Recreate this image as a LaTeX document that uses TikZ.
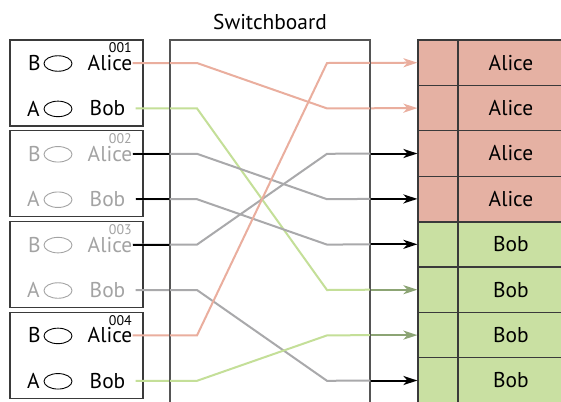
\documentclass[tikz,border=0pt]{standalone}
\usepackage{fontspec}
\setmainfont{PT Sans}
\usetikzlibrary{arrows.meta,shapes.geometric}
\definecolor{pinkfill}{HTML}{E5B1A3}
\definecolor{greenfill}{HTML}{C9E0A2}
\definecolor{pinkln}{HTML}{EAAE9E}
\definecolor{greenln}{HTML}{C4DF98}
\definecolor{greyln}{HTML}{A9A9AB}
\definecolor{greytxt}{HTML}{A3A3A3}
\definecolor{darkgreen}{HTML}{8CA474}
\definecolor{boxln}{HTML}{3A3A3A}
\definecolor{sbln}{HTML}{555555}
\tikzset{
  lbl/.style={inner sep=0pt, font=\fontsize{21.5}{24}\selectfont},
  num/.style={inner sep=0pt, font=\fontsize{14}{16}\selectfont},
  panel/.style={draw=boxln, line width=1.2bp, minimum width=133bp, minimum height=86bp, inner sep=0pt},
  ring/.style={draw, line width=0.9bp, ellipse, minimum width=28bp, minimum height=15.5bp, inner sep=0pt},
  cellL/.style={draw=boxln, line width=1.2bp, minimum width=40bp, minimum height=45.4bp, inner sep=0pt},
  cellR/.style={draw=boxln, line width=1.2bp, minimum width=106bp, minimum height=45.4bp, inner sep=0pt, font=\fontsize{21.5}{24}\selectfont},
  wire/.style={line width=2bp},
  tip/.style={-{Stealth[length=14bp,width=9bp,inset=4bp]}},
}
\begin{document}
\begin{tikzpicture}[x=1bp,y=-1bp]
\useasboundingbox (0,0) rectangle (561,401);
\clip (0,0) rectangle (561,401);
\fill[white] (0,0) rectangle (561,401);

% switchboard
\node[draw=sbln, line width=1.3bp, minimum width=200bp, minimum height=400bp, inner sep=0pt] (sb) at (270,240) {};
\node[lbl] (title) at (270,22) {Switchboard};

% right table
\foreach \k/\nm/\fc in {1/Alice/pinkfill,2/Alice/pinkfill,3/Alice/pinkfill,4/Alice/pinkfill,5/Bob/greenfill,6/Bob/greenfill,7/Bob/greenfill,8/Bob/greenfill}{
  \node[cellL, fill=\fc] (c\k) at (438, 40+45.4*\k-22.7) {};
  \node[cellR, fill=\fc] (r\k) at (511, 40+45.4*\k-22.7) {\nm};
}
\draw[boxln, line width=2.4bp] (c4.south west) -- (r4.south east);

% left panels
\foreach \j/\n/\col in {0/001/black,1/002/greytxt,2/003/greytxt,3/004/black}{
  \node[panel] (p\j) at (76.5, 40+90.8*\j+43) {};
  \node[num, text=\col, anchor=north east] (n\j) at (132, 42.5+90.8*\j) {\n};
  \node[lbl, text=\col] (b\j) at (34.5, 63+90.8*\j) {B};
  \node[ring, draw=\col] (eb\j) at (58, 63.5+90.8*\j) {};
  \node[lbl, text=\col, anchor=east] (al\j) at (132.5, 63+90.8*\j) {Alice};
  \node[lbl, text=\col] (a\j) at (33.5, 108.4+90.8*\j) {A};
  \node[ring, draw=\col] (ea\j) at (58, 108.9+90.8*\j) {};
  \node[lbl, text=\col, anchor=east] (bo\j) at (125.5, 108.4+90.8*\j) {Bob};
  \coordinate (bs\j) at ([xshift=10bp]bo\j.east);
}

% box1 Alice -> row 2
\draw[wire, pinkln, tip] (al0.east) -- (197,63) -- (327, 108.4) -- (c2.west);
% box1 Bob -> row 6
\draw[wire, greenln] (bs0) -- (197,108.4) -- (327, 290) -- (sb.east |- c6.west);
\draw[wire, darkgreen, tip] (sb.east |- c6.west) -- (c6.west);
% box2 Alice -> row 4
\draw[wire, greyln] (al1.east) -- (197,153.8) -- (327,199.2) -- (sb.east |- c4.west);
\draw[wire, black, tip] (sb.east |- c4.west) -- (c4.west);
\draw[wire, black] (al1.east) -- (sb.west |- al1.east);
% box2 Bob -> row 5
\draw[wire, greyln] (bs1) -- (197,199.2) -- (327,244.6) -- (sb.east |- c5.west);
\draw[wire, black, tip] (sb.east |- c5.west) -- (c5.west);
\draw[wire, black] (bs1) -- (sb.west |- bs1);
% box3 Alice -> row 3
\draw[wire, greyln] (al2.east) -- (197,244.6) -- (327,153.8) -- (sb.east |- c3.west);
\draw[wire, black, tip] (sb.east |- c3.west) -- (c3.west);
\draw[wire, black] (al2.east) -- (sb.west |- al2.east);
% box3 Bob -> row 8
\draw[wire, greyln] (bs2) -- (197,290) -- (327,380.8) -- (sb.east |- c8.west);
\draw[wire, black, tip] (sb.east |- c8.west) -- (c8.west);
% box4 Alice -> row 1
\draw[wire, pinkln, tip] (al3.east) -- (197,335.4) -- (327,63) -- (c1.west);
% box4 Bob -> row 7
\draw[wire, greenln] (bs3) -- (197,380.8) -- (327,335.4) -- (sb.east |- c7.west);
\draw[wire, darkgreen, tip] (sb.east |- c7.west) -- (c7.west);

% switchboard border on top
\draw[sbln, line width=1.3bp] (sb.north west) rectangle (sb.south east);
\end{tikzpicture}
\end{document}
